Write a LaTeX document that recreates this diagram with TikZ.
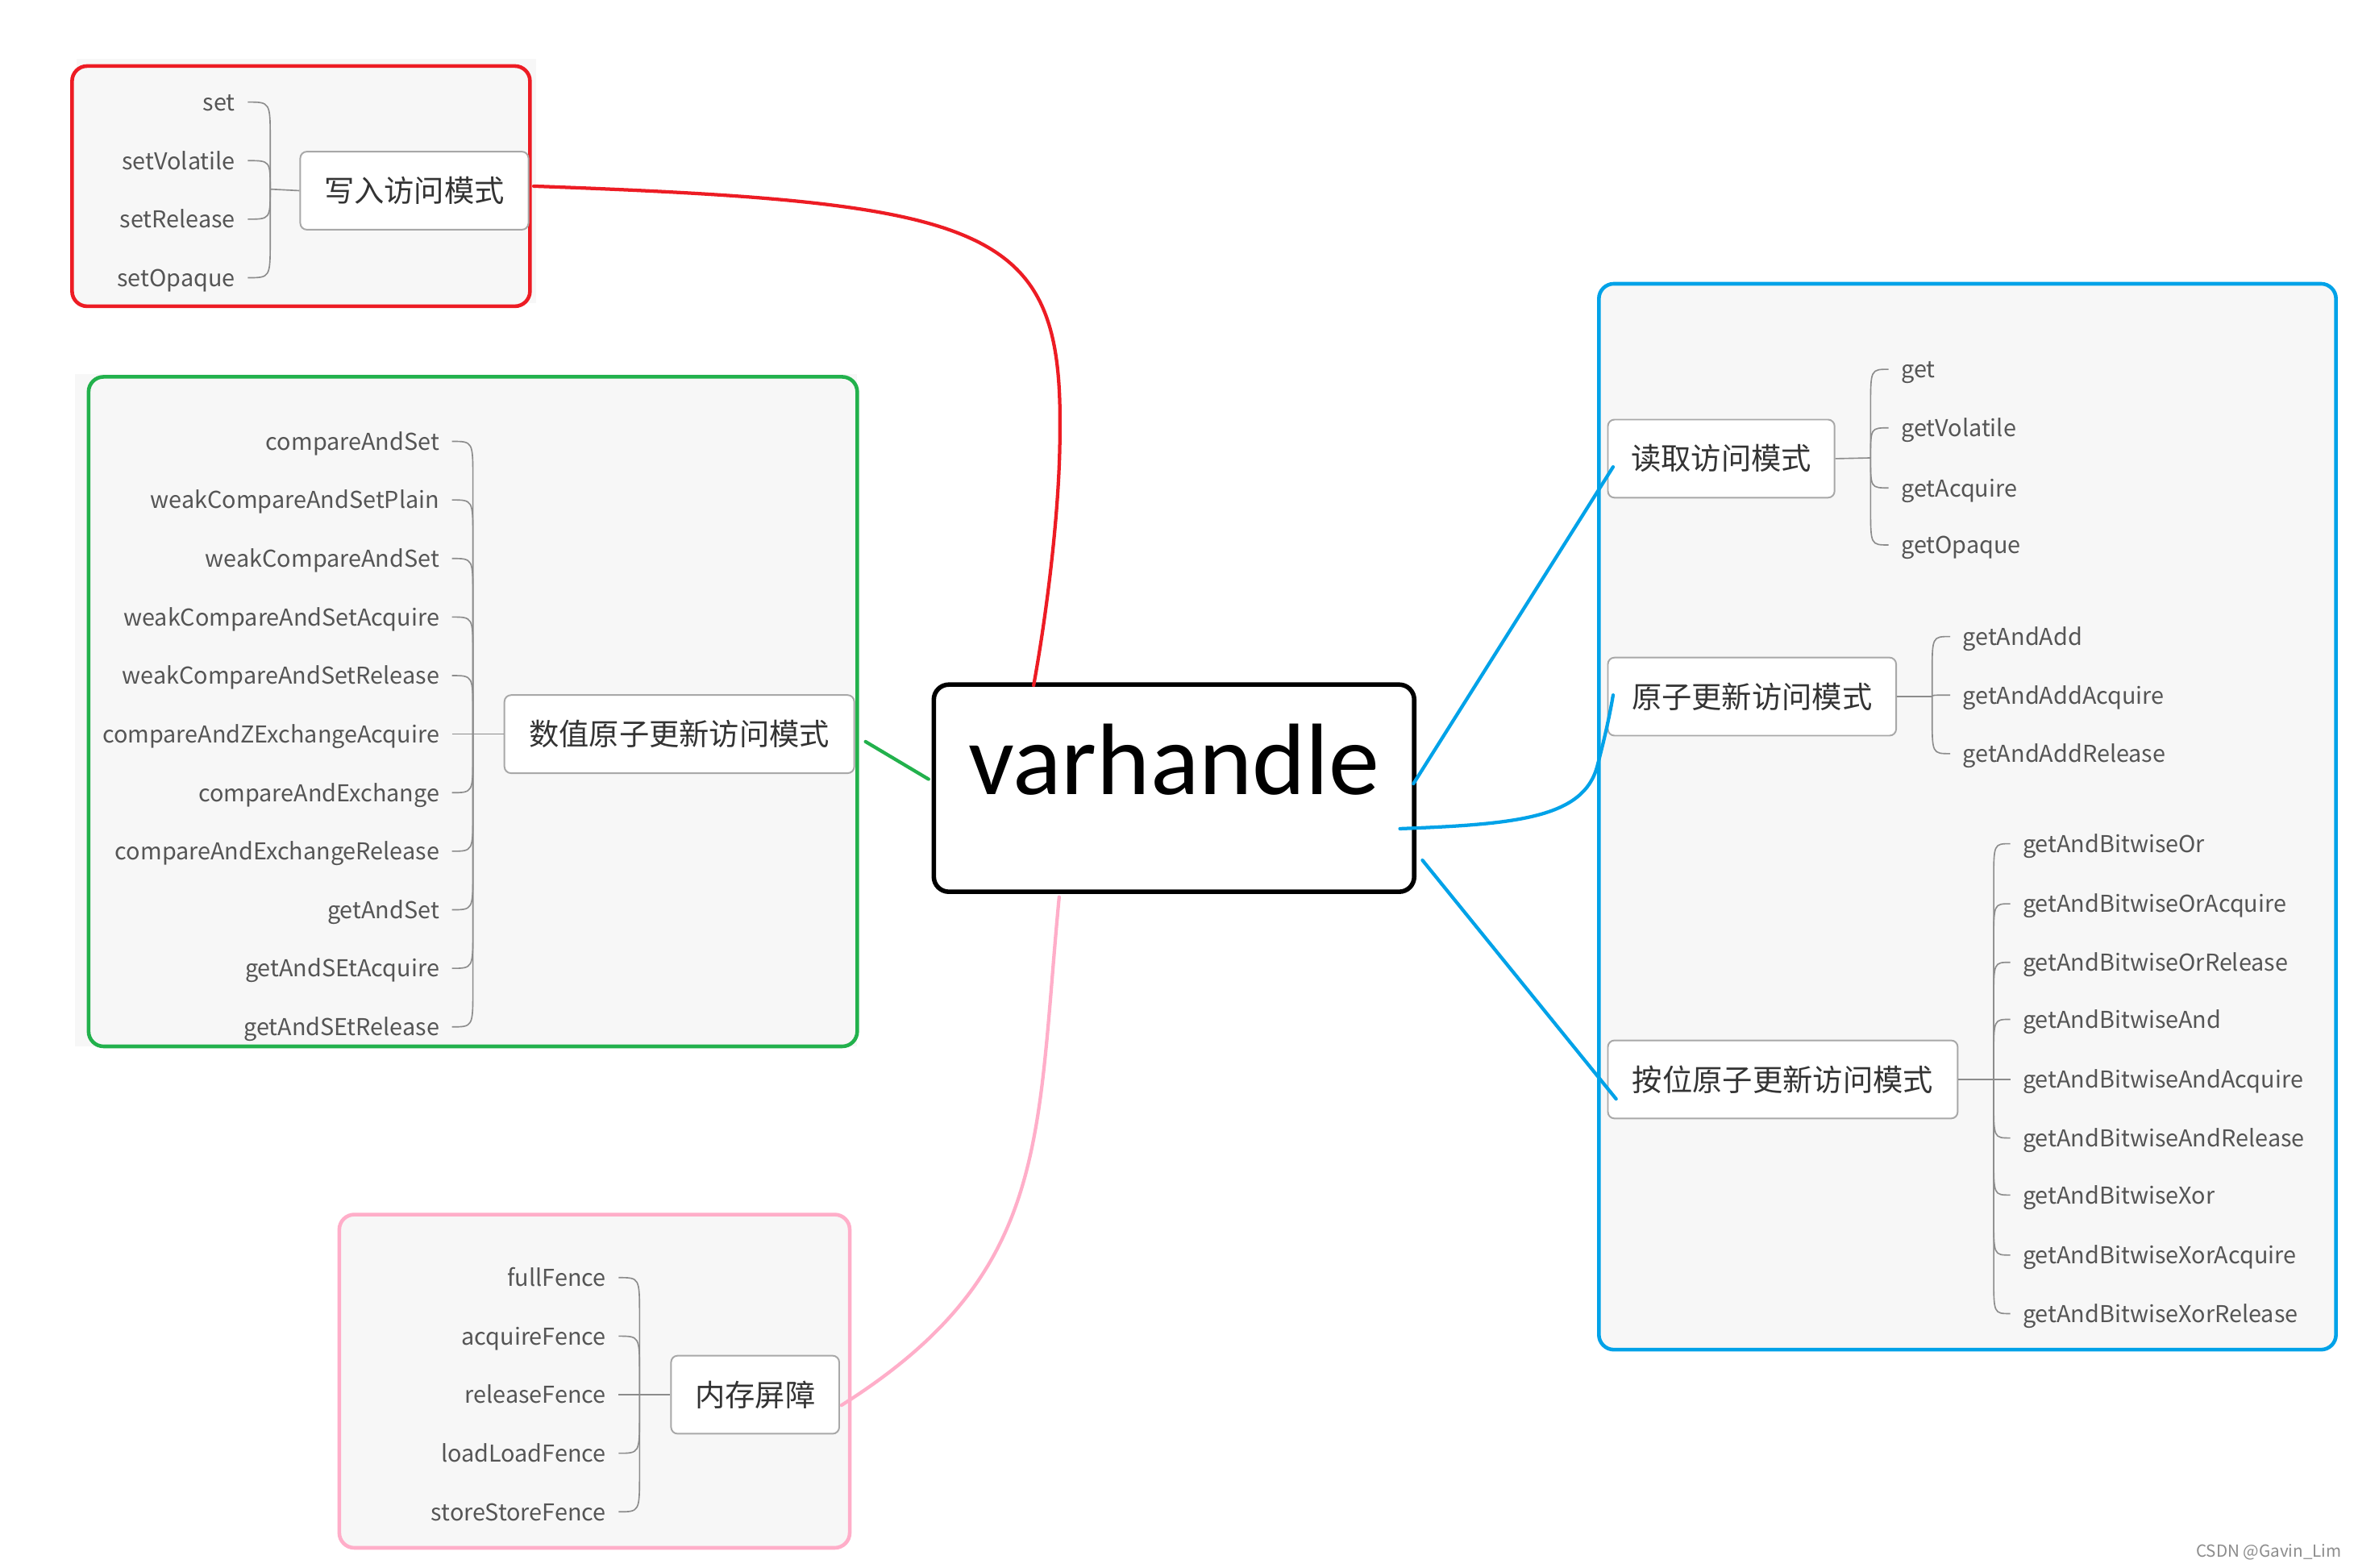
\documentclass[tikz,border=0pt]{standalone}
\usepackage{fontspec}
\setmainfont{Noto Sans CJK SC}
\newfontfamily\vhfont{Carlito}
\usetikzlibrary{calc}
\definecolor{pred}{HTML}{ED1C24}
\definecolor{pgreen}{HTML}{22B14C}
\definecolor{pblue}{HTML}{00A2E8}
\definecolor{ppink}{HTML}{FFAEC9}
\definecolor{panel}{HTML}{F7F7F7}
\definecolor{boxline}{HTML}{A8A8A8}
\definecolor{brline}{HTML}{8C8C8C}
\definecolor{itemtxt}{HTML}{555555}
\definecolor{cntxt}{HTML}{333333}
\newcommand\grpL[5]{%
  \coordinate (#1j) at (#3,#4);
  \foreach \yy/\txt [count=\k] in {#5}{%
    \pgfmathsetmacro\rr{(\yy<#4 ? 1 : -1)*min(25,abs(#4-\yy))}%
    \node[itemL] (#1\k) at (#2,\yy) {\txt};
    \draw[br] ($(#1\k.east)+(8,0)$) .. controls (#1j |- #1\k.east) .. ($(#1j |- #1\k.east)+(0,\rr)$) -- (#1j);
  }}
\newcommand\grpR[5]{%
  \coordinate (#1j) at (#3,#4);
  \foreach \yy/\txt [count=\k] in {#5}{%
    \pgfmathsetmacro\rr{(\yy<#4 ? 1 : -1)*min(25,abs(#4-\yy))}%
    \node[itemR] (#1\k) at (#2,\yy) {\txt};
    \draw[br] ($(#1\k.west)+(-8,0)$) .. controls (#1j |- #1\k.west) .. ($(#1j |- #1\k.west)+(0,\rr)$) -- (#1j);
  }}
\begin{document}
\begin{tikzpicture}[x=0.02cm,y=-0.02cm,
  panelbox/.style={line width=1.4pt, fill=panel, rounded corners=5.7pt},
  topic/.style={draw=boxline, line width=0.6pt, fill=white, rounded corners=2.5pt,
    font=\fontsize{11.4}{13}\selectfont, text=cntxt, inner sep=0pt, minimum height=52*0.02cm},
  itemL/.style={anchor=east, inner sep=0pt, text height=0.8em, text depth=0.14em,
    font=\fontsize{8.8}{11}\selectfont, text=itemtxt},
  itemR/.style={itemL, anchor=west},
  br/.style={draw=brline, line width=0.5pt},
  link/.style={line width=1.3pt, line cap=round},
]
\fill[white] (0,0) rectangle (1568,1044);
\useasboundingbox (0,0) rectangle (1568,1044);

% panels
\fill[panel] (51,39) rectangle (357,202);
\fill[panel] (50,249) rectangle (571,697);
\draw[panelbox, draw=pred] (48,44) rectangle (353,204);
\draw[panelbox, draw=pgreen] (59,251) rectangle (571,697);
\draw[panelbox, draw=pblue] (1065,189) rectangle (1556,899);
\draw[panelbox, draw=ppink] (226,809) rectangle (566,1031);

% write group
\grpL{w}{157}{180}{126}{68/set,107/setVolatile,146/setRelease,185/setOpaque}
\node[topic, minimum width=152*0.02cm] (wt) at (276,127) {写入访问模式};
\draw[br] (wj) -- (wt.west);

% numeric atomic group
\grpL{n}{293}{315}{489}{294/compareAndSet,333/weakCompareAndSetPlain,372/weakCompareAndSet,411/weakCompareAndSetAcquire,450/weakCompareAndSetRelease,489/compareAndZExchangeAcquire,528/compareAndExchange,567/compareAndExchangeRelease,606/getAndSet,645/getAndSEtAcquire,684/getAndSEtRelease}
\node[topic, minimum width=233*0.02cm] (nt) at (452.5,489) {数值原子更新访问模式};
\draw[br] (nj) -- (nt.west);

% fence group
\grpL{f}{404}{426}{929}{851/fullFence,890/acquireFence,929/releaseFence,968/loadLoadFence,1007/storeStoreFence}
\node[topic, minimum width=112*0.02cm] (pt) at (503,929) {内存屏障};
\draw[br] (fj) -- (pt.west);

% read group
\grpR{r}{1266}{1246}{305}{246/get,285/getVolatile,325/getAcquire,363/getOpaque}
\node[topic, minimum width=151*0.02cm] (rt) at (1146.5,305.5) {读取访问模式};
\draw[br] (rt.east) -- (rj);

% atomic update group
\grpR{a}{1307}{1287}{464}{424/getAndAdd,463/getAndAddAcquire,502/getAndAddRelease}
\node[topic, minimum width=192*0.02cm] (ut) at (1167,464) {原子更新访问模式};
\draw[br] (ut.east) -- (aj);

% bitwise group
\grpR{b}{1347}{1328}{719}{562/getAndBitwiseOr,602/getAndBitwiseOrAcquire,641/getAndBitwiseOrRelease,679/getAndBitwiseAnd,719/getAndBitwiseAndAcquire,758/getAndBitwiseAndRelease,796/getAndBitwiseXor,836/getAndBitwiseXorAcquire,875/getAndBitwiseXorRelease}
\node[topic, minimum width=233*0.02cm] (bt) at (1187.5,719) {按位原子更新访问模式};
\draw[br] (bt.east) -- (bj);

% central node
\node[draw, line width=1.7pt, fill=white, rounded corners=5.7pt, minimum width=320*0.02cm,
  minimum height=138*0.02cm, inner sep=0pt, text height=0.85em, text depth=0.35em,
  font=\vhfont\fontsize{38.5}{40}\selectfont] (vh) at (782,525) {varhandle};

% connectors
\draw[link, pred] ($(wt.east)+(3,-3)$) .. controls (660,135) and (708,150) .. (706,288)
  .. controls (706,340) and (697,410) .. ($(vh.north west)+(68,2)$);
\draw[link, pgreen] ($(nt.east)+(7,5)$) -- ($(vh.west)+(-2,-6)$);
\draw[link, ppink] ($(pt.east)+(1,7)$) .. controls (700,848) and (690,760) .. ($(vh.south west)+(85,2)$);
\draw[link, pblue] ($(vh.east)+(-2,-3)$) -- ($(rt.west)+(4,5.5)$);
\draw[link, pblue] ($(vh.east)+(-11,27)$) .. controls (1010,549) and (1055,545) .. (1064,510)
  .. controls (1068,495) and (1072,478) .. ($(ut.west)+(4,-1)$);
\draw[link, pblue] ($(vh.east)+(4,48)$) -- ($(bt.west)+(6,13)$);

% watermark
\node[anchor=east, inner sep=0pt, text=black!45, font=\fontsize{6.3}{7}\selectfont] (wm) at (1560,1034) {CSDN @Gavin\_Lim};
\end{tikzpicture}
\end{document}
